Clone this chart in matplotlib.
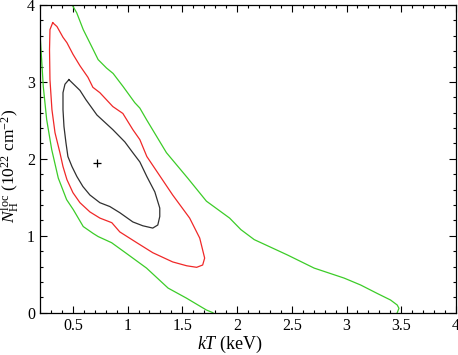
import numpy as np
import matplotlib
matplotlib.use("Agg")
import matplotlib.pyplot as plt
from matplotlib.ticker import MultipleLocator

plt.rcParams['font.family'] = 'Liberation Serif'
plt.rcParams['mathtext.fontset'] = 'custom'
plt.rcParams['mathtext.rm'] = 'Liberation Serif'
plt.rcParams['mathtext.it'] = 'Liberation Serif:italic'

# best fit
best_kt = 0.72
best_nh = 1.95

# inner contour (black)
black_kt = [0.464, 0.565, 0.619, 0.720, 0.865, 0.975, 1.048, 1.112, 1.176, 1.249,
            1.294, 1.294, 1.276, 1.230, 1.139, 1.048, 0.929, 0.838, 0.747, 0.656,
            0.592, 0.537, 0.492, 0.455, 0.437, 0.419, 0.410, 0.410, 0.428, 0.464]
black_nh = [3.03, 2.89, 2.77, 2.57, 2.38, 2.22, 2.08, 1.96, 1.77, 1.57,
            1.36, 1.25, 1.14, 1.10, 1.13, 1.18, 1.30, 1.38, 1.43, 1.53,
            1.64, 1.77, 1.90, 2.03, 2.21, 2.42, 2.64, 2.86, 2.97, 3.03]

# middle contour (red)
red_kt = [0.316, 0.355, 0.410, 0.446, 0.501, 0.565, 0.638, 0.683, 0.747, 0.865,
          0.957, 1.048, 1.112, 1.176, 1.294, 1.412, 1.567, 1.659, 1.704, 1.686,
          1.631, 1.540, 1.412, 1.230, 1.084, 0.929, 0.856, 0.747, 0.656, 0.565,
          0.501, 0.446, 0.410, 0.382, 0.337, 0.309, 0.291, 0.287, 0.291, 0.316]
red_nh = [3.77, 3.72, 3.58, 3.51, 3.36, 3.21, 3.06, 2.93, 2.86, 2.68,
          2.59, 2.38, 2.25, 2.03, 1.78, 1.53, 1.23, 0.97, 0.71, 0.62,
          0.59, 0.61, 0.66, 0.78, 0.91, 1.05, 1.17, 1.23, 1.31, 1.43,
          1.56, 1.73, 1.90, 2.08, 2.34, 2.64, 3.03, 3.42, 3.68, 3.77]

# outer contour (green), upper/right branch
green1_kt = [0.494, 0.535, 0.595, 0.686, 0.731, 0.808, 0.868, 0.959, 1.066, 1.112,
             1.173, 1.355, 1.549, 1.720, 1.932, 2.035, 2.157, 2.461, 2.704, 2.978,
             3.129, 3.281, 3.402, 3.463, 3.479, 3.463]
green1_nh = [4.0, 3.90, 3.68, 3.42, 3.29, 3.18, 3.11, 2.94, 2.73, 2.66,
             2.51, 2.08, 1.75, 1.45, 1.23, 1.08, 0.95, 0.75, 0.58, 0.45,
             0.36, 0.25, 0.165, 0.10, 0.057, 0.0]

# outer contour (green), lower/left branch
green2_kt = [0.200, 0.215, 0.230, 0.261, 0.307, 0.367, 0.443, 0.504, 0.595, 0.686,
             0.731, 0.854, 0.990, 1.173, 1.370, 1.537, 1.720, 1.780]
green2_nh = [3.62, 3.29, 2.94, 2.51, 2.12, 1.75, 1.47, 1.34, 1.12, 1.03,
             0.99, 0.91, 0.77, 0.58, 0.32, 0.19, 0.035, 0.0]

fig = plt.figure(figsize=(4.58, 3.55), dpi=100)
ax = fig.add_axes([40 / 458, 42.3 / 355, 416 / 458, 307.7 / 355])

ax.plot(green1_kt, green1_nh, color='#3ccc28', lw=0.9)
ax.plot(green2_kt, green2_nh, color='#3ccc28', lw=0.9)
ax.plot(red_kt, red_nh, color='#f02828', lw=0.9)
ax.plot(black_kt, black_nh, color='#303030', lw=0.9)
ax.plot(best_kt, best_nh, marker='+', color='k', ms=6, mew=0.9)

ax.set_xlim(0.2, 4)
ax.set_ylim(0, 4)
ax.xaxis.set_major_locator(MultipleLocator(0.5))
ax.xaxis.set_minor_locator(MultipleLocator(0.1))
ax.yaxis.set_major_locator(MultipleLocator(1))
ax.yaxis.set_minor_locator(MultipleLocator(0.2))
ax.xaxis.set_major_formatter(plt.FuncFormatter(lambda v, p: ('%g' % v)))
ax.tick_params(which='both', direction='in', top=True, right=True, labelsize=11.5, width=0.8)
ax.tick_params(which='major', length=5)
ax.tick_params(which='minor', length=2.5)
for s in ax.spines.values():
    s.set_linewidth(0.9)

ax.set_xlabel(r'$kT$ (keV)', fontsize=13)
ax.set_ylabel(r'$N_{\rm H}^{\rm loc}$ (10$^{22}$ cm$^{-2}$)', fontsize=12.5)
ax.xaxis.set_label_coords(0.457, -0.068)
ax.yaxis.set_label_coords(-0.043, 0.477)

fig.savefig('out.png', dpi=100)
